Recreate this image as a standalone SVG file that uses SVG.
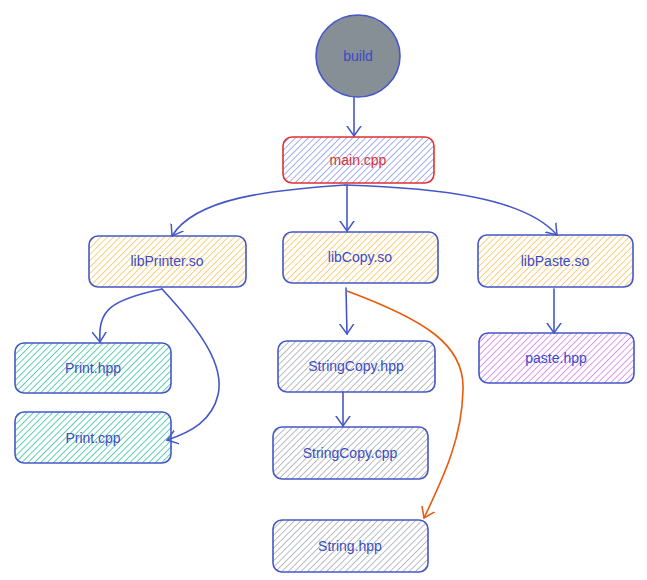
<svg xmlns="http://www.w3.org/2000/svg" width="647" height="580" viewBox="0 0 647 580">
<defs>
<pattern id="hBlue" width="4.5" height="4.5" patternUnits="userSpaceOnUse" patternTransform="rotate(45)"><line x1="0" y1="0" x2="0" y2="5" stroke="#8c9bef" stroke-width="1.6"/></pattern>
<pattern id="hYellow" width="4.5" height="4.5" patternUnits="userSpaceOnUse" patternTransform="rotate(45)"><line x1="0" y1="0" x2="0" y2="5" stroke="#fcc45c" stroke-width="1.6"/></pattern>
<pattern id="hGreen" width="4.5" height="4.5" patternUnits="userSpaceOnUse" patternTransform="rotate(45)"><line x1="0" y1="0" x2="0" y2="5" stroke="#3cc79e" stroke-width="1.6"/></pattern>
<pattern id="hGray" width="4.5" height="4.5" patternUnits="userSpaceOnUse" patternTransform="rotate(45)"><line x1="0" y1="0" x2="0" y2="5" stroke="#a8adb2" stroke-width="1.6"/></pattern>
<pattern id="hPurple" width="4.5" height="4.5" patternUnits="userSpaceOnUse" patternTransform="rotate(45)"><line x1="0" y1="0" x2="0" y2="5" stroke="#d57ef0" stroke-width="1.6"/></pattern>
<marker id="arr" viewBox="0 0 20 20" refX="10" refY="10" markerWidth="20" markerHeight="20" markerUnits="userSpaceOnUse" orient="auto"><path d="M0,3 L10,10 L0,17" fill="none" stroke="#4457c9" stroke-width="1.5" stroke-linecap="round"/></marker>
<marker id="arrO" viewBox="0 0 20 20" refX="10" refY="10" markerWidth="20" markerHeight="20" markerUnits="userSpaceOnUse" orient="auto"><path d="M0,3 L10,10 L0,17" fill="none" stroke="#e8590c" stroke-width="1.5" stroke-linecap="round"/></marker>
</defs>
<style>
.box{stroke:#4457c9;stroke-width:1.6}
.lbl{font-family:"Liberation Sans",Arial,sans-serif;font-size:14px;fill:#3b4bc4;text-anchor:middle;dominant-baseline:central}
.con{fill:none;stroke:#4457c9;stroke-width:1.6;stroke-linecap:round}
</style>
<g id="connectors">
<path class="con" d="M354,97 L354,136" marker-end="url(#arr)"/>
<path class="con" d="M345,185 C 270,190 195,198 172,236" marker-end="url(#arr)"/>
<path class="con" d="M347,185 L347,231" marker-end="url(#arr)"/>
<path class="con" d="M345,185 C 440,188 525,198 557,235" marker-end="url(#arr)"/>
<path class="con" d="M162,289 C 110,300 98,310 100,342" marker-end="url(#arr)"/>
<path class="con" d="M162,289 C 200,330 225,365 218,395 C 212,420 192,432 167,440" marker-end="url(#arr)"/>
<path class="con" d="M346,288 L347,334" marker-end="url(#arr)"/>
<path class="con" d="M343,392 L343,426" marker-end="url(#arr)"/>
<path class="con" d="M554,289 L554,333" marker-end="url(#arr)"/>
<path fill="none" stroke="#e8590c" stroke-width="1.6" d="M347,291 C 425,320 465,345 463,390 C 462,440 442,480 424,518" marker-end="url(#arrO)"/>
</g>
<g id="build"><ellipse cx="358" cy="56" rx="42" ry="41" fill="#868e96" class="box"/><text class="lbl" x="358" y="56">build</text></g>
<g id="main"><rect x="283" y="137" width="151" height="46" rx="9" fill="url(#hBlue)" stroke="#e03131" stroke-width="1.6"/><text class="lbl" x="358" y="160" style="fill:#e03131">main.cpp</text></g>
<g id="libPrinter"><rect class="box" x="89" y="236" width="157" height="51" rx="9" fill="url(#hYellow)"/><text class="lbl" x="167" y="261">libPrinter.so</text></g>
<g id="libCopy"><rect class="box" x="283" y="232" width="155" height="51" rx="9" fill="url(#hYellow)"/><text class="lbl" x="360" y="257">libCopy.so</text></g>
<g id="libPaste"><rect class="box" x="478" y="235" width="155" height="52" rx="9" fill="url(#hYellow)"/><text class="lbl" x="555" y="261">libPaste.so</text></g>
<g id="printHpp"><rect class="box" x="15" y="343" width="156" height="50" rx="9" fill="url(#hGreen)"/><text class="lbl" x="93" y="368">Print.hpp</text></g>
<g id="printCpp"><rect class="box" x="15" y="412" width="156" height="51" rx="9" fill="url(#hGreen)"/><text class="lbl" x="93" y="438">Print.cpp</text></g>
<g id="stringCopyHpp"><rect class="box" x="278" y="341" width="157" height="51" rx="9" fill="url(#hGray)"/><text class="lbl" x="356" y="366">StringCopy.hpp</text></g>
<g id="stringCopyCpp"><rect class="box" x="273" y="427" width="155" height="52" rx="9" fill="url(#hGray)"/><text class="lbl" x="350" y="453">StringCopy.cpp</text></g>
<g id="stringHpp"><rect class="box" x="273" y="520" width="155" height="52" rx="9" fill="url(#hGray)"/><text class="lbl" x="350" y="546">String.hpp</text></g>
<g id="pasteHpp"><rect class="box" x="479" y="333" width="155" height="50" rx="9" fill="url(#hPurple)"/><text class="lbl" x="556" y="358">paste.hpp</text></g>
</svg>
